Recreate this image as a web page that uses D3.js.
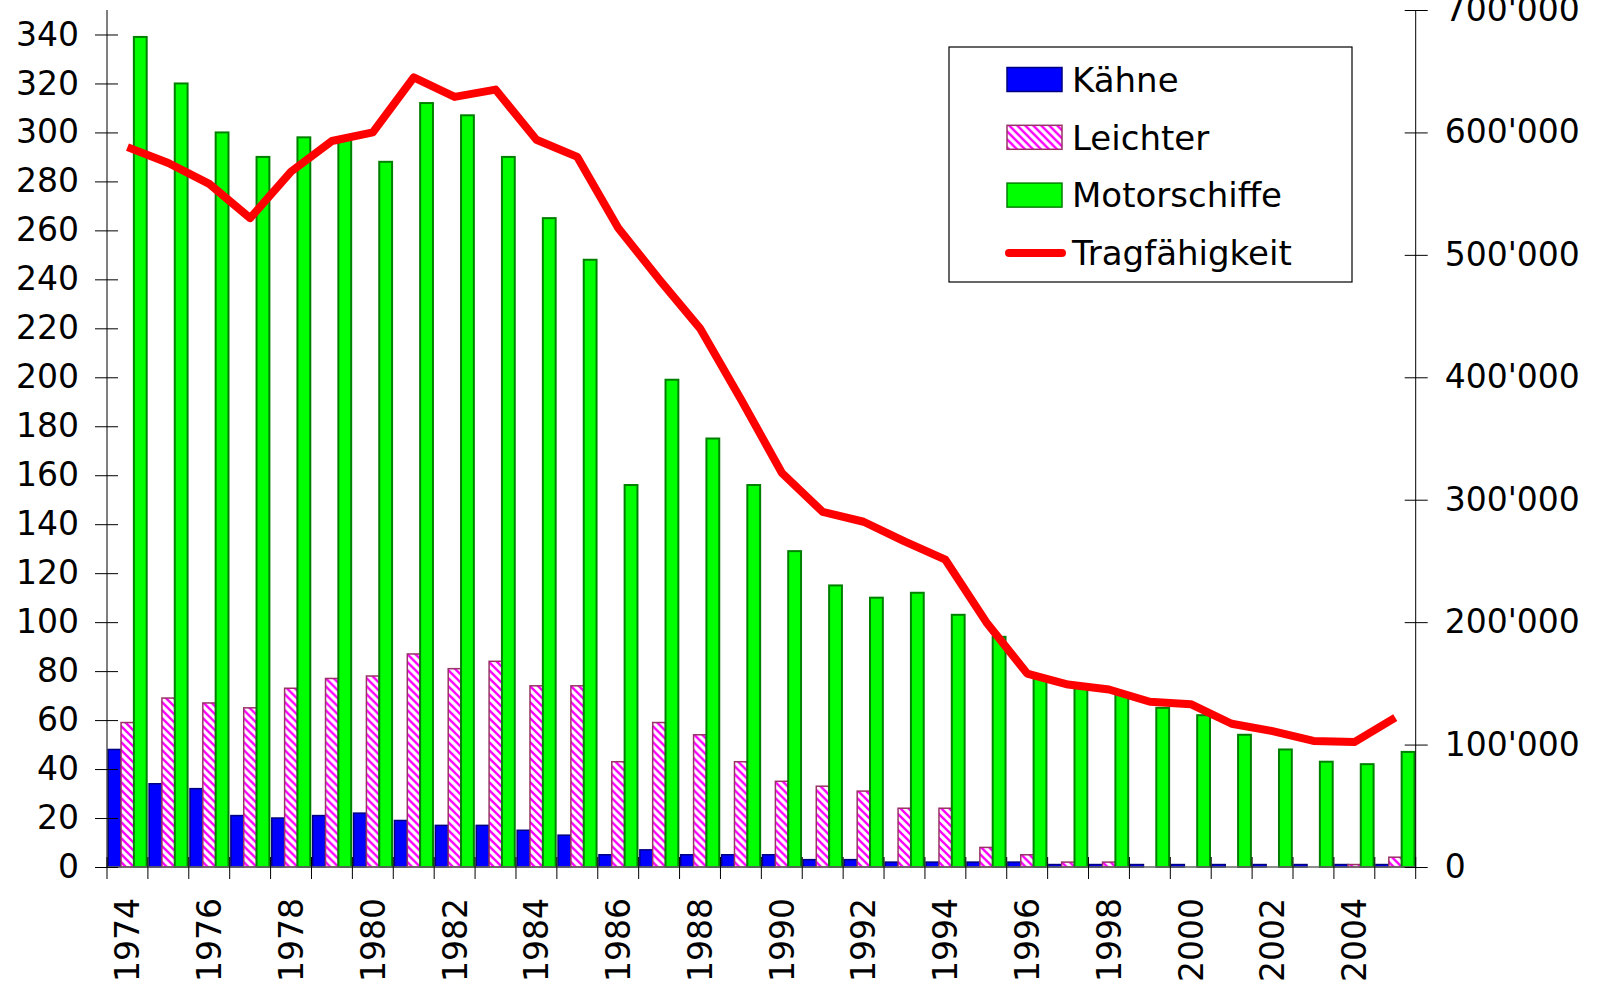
<!DOCTYPE html>
<html>
<head>
<meta charset="utf-8">
<script src="https://cdn.jsdelivr.net/npm/d3@7"></script>
<style>
  body { margin: 0; background: #fff; }
  text { font-family: "DejaVu Sans", Verdana, sans-serif; fill: #000; }
</style>
</head>
<body>
<div class="chart"></div>
<script>
var years = [1974,1975,1976,1977,1978,1979,1980,1981,1982,1983,1984,1985,1986,1987,1988,1989,
             1990,1991,1992,1993,1994,1995,1996,1997,1998,1999,2000,2001,2002,2003,2004,2005];
var kaehne = [48,34,32,21,20,21,22,19,17,17,15,13,5,7,5,5,5,3,3,2,2,2,2,1,1,1,1,1,1,1,1,1];
var leichter = [59,69,67,65,73,77,78,87,81,84,74,74,43,59,54,43,35,33,31,24,24,8,5,2,2,0,0,0,0,0,1,4];
var motorschiffe = [339,320,300,290,298,297,288,312,307,290,265,248,156,199,175,156,129,115,110,112,103,94,78,73,71,65,62,54,48,43,42,47];
var tragfaehigkeit = [588000,575000,558000,530000,568000,593000,600000,645000,629000,635000,594000,580000,
                      522000,480000,440000,382000,322000,290000,282000,266000,251000,200000,158000,149000,
                      145000,135000,133000,117000,111000,103000,102000,122000];
var leftTicks = [0,20,40,60,80,100,120,140,160,180,200,220,240,260,280,300,320,340];
var rightTicks = [0,100000,200000,300000,400000,500000,600000,700000];
var yearLabels = [1974,1976,1978,1980,1982,1984,1986,1988,1990,1992,1994,1996,1998,2000,2002,2004];
var seriesNames = ["Kähne", "Leichter", "Motorschiffe"];

var width = 1597, height = 988;
var plotLeft = 107, plotRight = 1415.7, plotTop = 10, plotBottom = 867;

var svg = d3.select(".chart").append("svg")
  .attr("width", width)
  .attr("height", height);

var defs = svg.append("defs");
var pat = defs.append("pattern")
  .attr("id", "hatch")
  .attr("patternUnits", "userSpaceOnUse")
  .attr("width", 8).attr("height", 8);
pat.append("rect").attr("width", 8).attr("height", 8).attr("fill", "#fff");
pat.append("path")
  .attr("d", "M-2,-2 L10,10 M-2,6 L2,10 M6,-2 L10,2")
  .attr("stroke", "#ff00ff").attr("stroke-width", 2.4);

var fills = {"Kähne": "#0000ff", "Leichter": "url(#hatch)", "Motorschiffe": "#00ff00"};
var strokes = {"Kähne": "#000080", "Leichter": "#993366", "Motorschiffe": "#008000"};

var x = d3.scaleBand().domain(years).range([plotLeft, plotRight]).padding(0);
var xInner = d3.scaleBand().domain(seriesNames).range([1.2, x.bandwidth() - 1.2]).padding(0);
var y = d3.scaleLinear().domain([0, 350]).range([plotBottom, plotTop]);
var y2 = d3.scaleLinear().domain([0, 700000]).range([plotBottom, plotTop]);

var rows = years.map(function(yr, i) {
  return {year: yr, values: [kaehne[i], leichter[i], motorschiffe[i]]};
});

// bars
var groups = svg.append("g").selectAll("g")
  .data(rows)
  .enter().append("g")
  .attr("transform", function(d) { return "translate(" + x(d.year) + ",0)"; });

groups.selectAll("rect")
  .data(function(d) { return seriesNames.map(function(s, j) { return {name: s, value: d.values[j]}; }); })
  .enter().append("rect")
  .filter(function(d) { return d.value > 0; })
  .attr("x", function(d) { return xInner(d.name); })
  .attr("width", xInner.bandwidth())
  .attr("y", function(d) { return y(d.value); })
  .attr("height", function(d) { return plotBottom - y(d.value); })
  .attr("fill", function(d) { return fills[d.name]; })
  .attr("stroke", function(d) { return strokes[d.name]; })
  .attr("stroke-width", function(d) { return d.name === "Motorschiffe" ? 2 : 1.5; });

// x axis baseline and crossing ticks at category boundaries
svg.append("line")
  .attr("x1", plotLeft).attr("x2", plotRight)
  .attr("y1", plotBottom).attr("y2", plotBottom)
  .attr("stroke", "#666").attr("stroke-width", 1.5);

var bounds = years.map(function(yr) { return x(yr); }).concat([plotRight]);
svg.append("g").selectAll("line")
  .data(bounds)
  .enter().append("line")
  .attr("x1", function(d) { return d; }).attr("x2", function(d) { return d; })
  .attr("y1", plotBottom - 10).attr("y2", plotBottom + 12)
  .attr("stroke", "#000").attr("stroke-width", 1);

svg.append("g").selectAll("text")
  .data(yearLabels)
  .enter().append("text")
  .attr("transform", function(d) { return "translate(" + (x(d) + x.bandwidth() / 2) + ",898) rotate(-90)"; })
  .attr("text-anchor", "end")
  .attr("dy", "0.36em")
  .style("font-size", "33px")
  .text(function(d) { return d; });

// left axis
var leftAxis = svg.append("g")
  .attr("transform", "translate(" + plotLeft + ",0)")
  .call(d3.axisLeft(y).tickValues(leftTicks).tickSize(12).tickSizeOuter(0).tickPadding(16));
leftAxis.selectAll(".tick line").attr("x1", 11);
leftAxis.selectAll("text").style("font-size", "33px").attr("x", -28);
leftAxis.select(".domain").attr("d", "M0," + plotTop + "V" + plotBottom);

// right axis
var fmt = d3.formatLocale({decimal: ".", thousands: "'", grouping: [3], currency: ["", ""]}).format(",");
var rightAxis = svg.append("g")
  .attr("transform", "translate(" + plotRight + ",0)")
  .call(d3.axisRight(y2).tickValues(rightTicks).tickSize(12).tickSizeOuter(0).tickFormat(fmt));
rightAxis.selectAll(".tick line").attr("x1", -11);
rightAxis.selectAll("text").style("font-size", "33px").attr("x", 29);
rightAxis.select(".domain").attr("d", "M0," + plotTop + "V" + plotBottom);

svg.selectAll(".domain").attr("stroke", "#000");

// Tragfähigkeit line
var line = d3.line()
  .x(function(d, i) { return x(years[i]) + x.bandwidth() / 2; })
  .y(function(d) { return y2(d); });

svg.append("path")
  .datum(tragfaehigkeit)
  .attr("d", line)
  .attr("fill", "none")
  .attr("stroke", "#ff0000")
  .attr("stroke-width", 8)
  .attr("stroke-linejoin", "round")
  .attr("stroke-linecap", "butt");

// legend
var legend = svg.append("g").attr("transform", "translate(949,47)");
legend.append("rect")
  .attr("width", 403).attr("height", 235)
  .attr("fill", "#fff").attr("stroke", "#000").attr("stroke-width", 1.2);

var legendItems = seriesNames.concat(["Tragfähigkeit"]);
var li = legend.selectAll(".li")
  .data(legendItems)
  .enter().append("g")
  .attr("class", "li")
  .attr("transform", function(d, i) { return "translate(0," + (32.5 + i * 57.8) + ")"; });

li.filter(function(d, i) { return i < 3; })
  .append("rect")
  .attr("x", 58).attr("y", -12)
  .attr("width", 55).attr("height", 24)
  .attr("fill", function(d) { return fills[d]; })
  .attr("stroke", function(d) { return strokes[d]; })
  .attr("stroke-width", 1.5);

li.filter(function(d, i) { return i === 3; })
  .append("line")
  .attr("x1", 60).attr("x2", 113)
  .attr("stroke", "#ff0000").attr("stroke-width", 8)
  .attr("stroke-linecap", "round");

li.append("text")
  .attr("x", 123)
  .attr("dy", "0.36em")
  .style("font-size", "34px")
  .text(function(d) { return d; });
</script>
</body>
</html>
